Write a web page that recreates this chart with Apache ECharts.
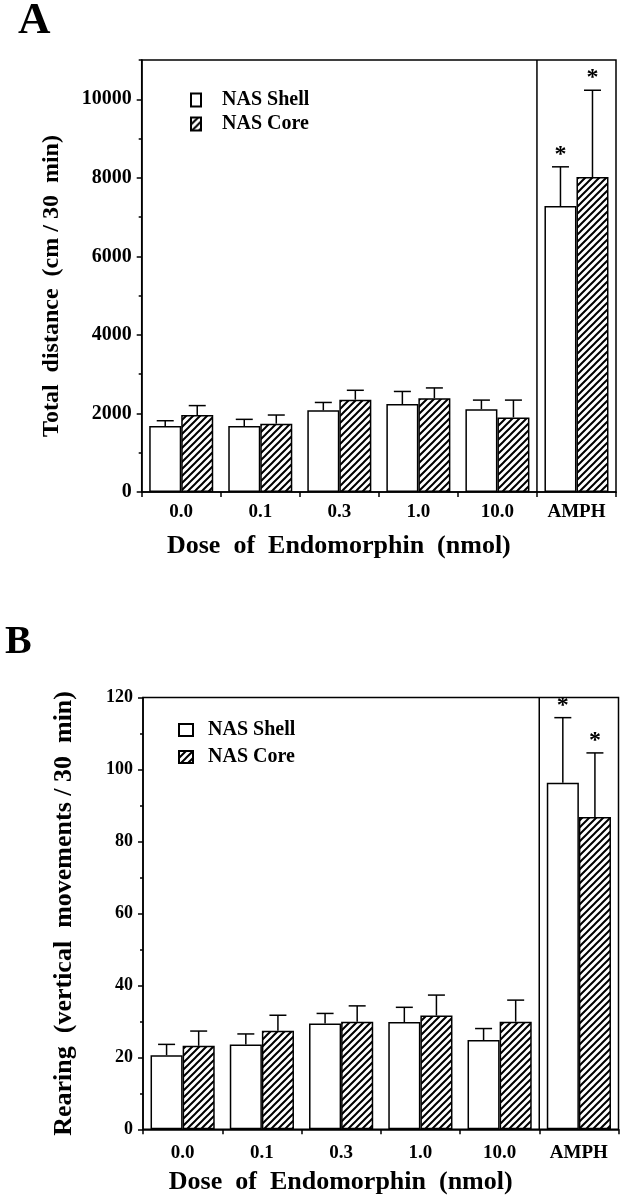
<!DOCTYPE html>
<html><head><meta charset="utf-8">
<script src="https://cdn.jsdelivr.net/npm/echarts@6/dist/echarts.min.js"></script>
<style>html,body{margin:0;padding:0;background:#fff}#c{width:629px;height:1199px}</style>
</head><body><div id="c"></div>
<script>
const categories = ['0.0', '0.1', '0.3', '1.0', '10.0', 'AMPH'];
const seriesNames = ['NAS Shell', 'NAS Core'];
// Panel A: Total distance (cm / 30 min)
const distShell    = [1680, 1680, 2080, 2240, 2110, 7280];
const distShellErr = [135, 170, 200, 320, 230, 1000];
const distCore     = [1960, 1740, 2350, 2390, 1900, 8020];
const distCoreErr  = [240, 220, 240, 260, 440, 2210];
// Panel B: Rearing (vertical movements / 30 min)
const rearShell    = [20.6, 23.6, 29.4, 29.8, 24.8, 96.3];
const rearShellErr = [3.0, 2.9, 2.8, 4.1, 3.2, 18.1];
const rearCore     = [23.2, 27.4, 29.9, 31.6, 29.9, 86.8];
const rearCoreErr  = [4.1, 4.3, 4.4, 5.7, 6.0, 17.8];
const significant  = [0, 0, 0, 0, 0, 1];
const separatedCategory = 5; // AMPH is boxed off from the dose groups

const FONT = '"Liberation Serif", "Times New Roman", serif';
const GAP = 0.19;

function hatch() {
  const s = 7, c = document.createElement('canvas');
  c.width = s; c.height = s;
  const g = c.getContext('2d');
  g.fillStyle = '#fff'; g.fillRect(0, 0, s, s);
  g.strokeStyle = '#000'; g.lineWidth = 2;
  g.beginPath();
  g.moveTo(-1, s + 1); g.lineTo(s + 1, -1);
  g.moveTo(-1, 1); g.lineTo(1, -1);
  g.moveTo(s - 1, s + 1); g.lineTo(s + 1, s - 1);
  g.stroke();
  return c;
}
const hatchFill = { image: hatch(), repeat: 'repeat' };

function errRender(side) {
  return function (params, api) {
    const i = api.value(0), m = api.value(1), e = api.value(2), sig = api.value(3);
    const p0 = api.coord([i, m]), p1 = api.coord([i, m + e]);
    const bw = api.size([1, 0])[0];
    const w = bw * (1 - GAP) / 2;
    const cx = p0[0] + side * w / 2;
    const ls = { stroke: '#000', lineWidth: 1.5 };
    const children = [
      { type: 'line', shape: { x1: cx, y1: p0[1], x2: cx, y2: p1[1] }, style: ls },
      { type: 'line', shape: { x1: cx - 8.5, y1: p1[1], x2: cx + 8.5, y2: p1[1] }, style: ls }
    ];
    if (sig) children.push({ type: 'text', style: { text: '*', x: cx, y: p1[1] - 12, align: 'center', verticalAlign: 'middle', font: 'bold 24px ' + FONT, fill: '#000' } });
    if (side < 0 && i === separatedCategory) {
      const cs = params.coordSys;
      const sx = p0[0] - bw / 2;
      children.push({ type: 'line', shape: { x1: sx, y1: cs.y, x2: sx, y2: cs.y + cs.height }, style: ls });
    }
    return { type: 'group', children };
  };
}
function errData(vals, errs) { return categories.map((c, i) => [i, vals[i], errs[i], significant[i]]); }

const axisLineStyle = { color: '#000', width: 1.5 };
function xAxis(gi, margin, nameGap) {
  return {
    gridIndex: gi, type: 'category', data: categories,
    axisLine: { lineStyle: axisLineStyle },
    axisTick: { show: true, length: 5, lineStyle: axisLineStyle },
    axisLabel: { color: '#000', fontFamily: FONT, fontWeight: 'bold', fontSize: 19, margin: margin },
    splitLine: { show: false },
    name: 'Dose  of  Endomorphin  (nmol)', nameLocation: 'middle', nameGap: nameGap,
    nameTextStyle: { color: '#000', fontFamily: FONT, fontWeight: 'bold', fontSize: 26, padding: [0, 80, 0, 0] }
  };
}
const plainNum = (v) => String(v);

const option = {
  backgroundColor: '#fff',
  animation: false,
  graphic: [
    { type: 'text', x: 18, y: 21, style: { text: 'A', font: 'bold 45px ' + FONT, verticalAlign: 'middle', fill: '#000' } },
    { type: 'text', x: 5, y: 643, style: { text: 'B', font: 'bold 40px ' + FONT, verticalAlign: 'middle', fill: '#000' } }
  ],
  grid: [
    { left: 141.7, right: 13, top: 60, bottom: 707, show: true, borderColor: '#000', borderWidth: 1.5 },
    { left: 143, right: 10.5, top: 697.5, bottom: 69.7, show: true, borderColor: '#000', borderWidth: 1.5 }
  ],
  legend: [
    { data: seriesNames, orient: 'vertical', left: 185, top: 85, icon: 'rect', itemWidth: 10, itemHeight: 13, itemGap: 4, selectedMode: false,
      textStyle: { color: '#000', fontFamily: FONT, fontWeight: 'bold', fontSize: 20, padding: [0, 0, 0, 16] } },
    { data: seriesNames, orient: 'vertical', left: 173, top: 715, icon: 'rect', itemWidth: 14, itemHeight: 12, itemGap: 7, selectedMode: false,
      textStyle: { color: '#000', fontFamily: FONT, fontWeight: 'bold', fontSize: 20, padding: [0, 0, 0, 10] } }
  ],
  xAxis: [xAxis(0, 11, 41), xAxis(1, 14, 40)],
  yAxis: [
    { gridIndex: 0, type: 'value', position: 'left', min: 0, max: 11000, interval: 2000,
      axisLine: { show: true, lineStyle: axisLineStyle },
      axisTick: { show: true, length: 5, lineStyle: axisLineStyle },
      axisLabel: { showMaxLabel: false, formatter: plainNum, color: '#000', fontFamily: FONT, fontWeight: 'bold', fontSize: 20, margin: 10 },
      splitLine: { show: false },
      name: 'Total  distance  (cm / 30  min)', nameLocation: 'middle', nameGap: 78,
      nameTextStyle: { color: '#000', fontFamily: FONT, fontWeight: 'bold', fontSize: 24, padding: [0, 20, 0, 0] } },
    { gridIndex: 0, type: 'value', position: 'left', offset: 0, min: 0, max: 11000, interval: 1000,
      axisLine: { show: false }, axisTick: { show: true, length: 3, lineStyle: axisLineStyle },
      axisLabel: { show: false }, splitLine: { show: false } },
    { gridIndex: 1, type: 'value', position: 'left', min: 0, max: 120, interval: 20,
      axisLine: { show: true, lineStyle: axisLineStyle },
      axisTick: { show: true, length: 5, lineStyle: axisLineStyle },
      minorTick: { show: true, splitNumber: 2, length: 3, lineStyle: axisLineStyle },
      axisLabel: { formatter: plainNum, color: '#000', fontFamily: FONT, fontWeight: 'bold', fontSize: 18, margin: 10 },
      splitLine: { show: false },
      name: 'Rearing  (vertical  movements / 30  min)', nameLocation: 'middle', nameGap: 66,
      nameTextStyle: { color: '#000', fontFamily: FONT, fontWeight: 'bold', fontSize: 26 } }
  ],
  series: [
    { name: 'NAS Shell', type: 'bar', xAxisIndex: 0, yAxisIndex: 0, data: distShell, barGap: '0%', barCategoryGap: '19%',
      itemStyle: { color: '#fff', borderColor: '#000', borderWidth: 1.5 } },
    { name: 'NAS Core', type: 'bar', xAxisIndex: 0, yAxisIndex: 0, data: distCore, barGap: '0%', barCategoryGap: '19%',
      itemStyle: { color: hatchFill, borderColor: '#000', borderWidth: 1.5 } },
    { name: 'errA1', type: 'custom', xAxisIndex: 0, yAxisIndex: 0, renderItem: errRender(-1), data: errData(distShell, distShellErr), encode: { x: 0, y: 1 }, z: 5 },
    { name: 'errA2', type: 'custom', xAxisIndex: 0, yAxisIndex: 0, renderItem: errRender(1), data: errData(distCore, distCoreErr), encode: { x: 0, y: 1 }, z: 5 },
    { name: 'NAS Shell', type: 'bar', xAxisIndex: 1, yAxisIndex: 2, data: rearShell, barGap: '0%', barCategoryGap: '19%',
      itemStyle: { color: '#fff', borderColor: '#000', borderWidth: 1.5 } },
    { name: 'NAS Core', type: 'bar', xAxisIndex: 1, yAxisIndex: 2, data: rearCore, barGap: '0%', barCategoryGap: '19%',
      itemStyle: { color: hatchFill, borderColor: '#000', borderWidth: 1.5 } },
    { name: 'errB1', type: 'custom', xAxisIndex: 1, yAxisIndex: 2, renderItem: errRender(-1), data: errData(rearShell, rearShellErr), encode: { x: 0, y: 1 }, z: 5 },
    { name: 'errB2', type: 'custom', xAxisIndex: 1, yAxisIndex: 2, renderItem: errRender(1), data: errData(rearCore, rearCoreErr), encode: { x: 0, y: 1 }, z: 5 }
  ]
};
const chart = echarts.init(document.getElementById('c'), null, { renderer: 'canvas' });
chart.setOption(option);
</script></body></html>
